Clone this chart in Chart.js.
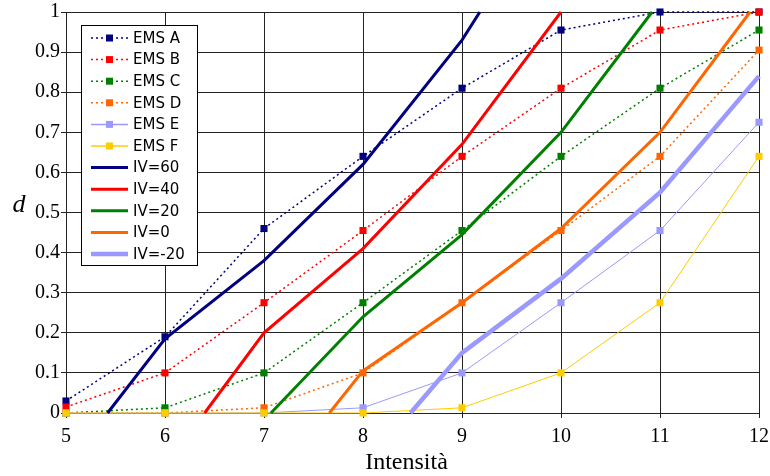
<!DOCTYPE html>
<html>
<head>
<meta charset="utf-8">
<script src="https://cdn.jsdelivr.net/npm/chart.js"></script>
<style>
  html, body { margin: 0; padding: 0; background: #fff; }
  #wrap { width: 770px; height: 476px; }
</style>
</head>
<body>
<div id="wrap"><canvas id="emsChart" width="770" height="476"></canvas></div>
<script>
// 强度等级 (EMS 曲线的横坐标)
const intensity = [5, 6, 7, 8, 9, 10, 11, 12];

// EMS 各类建筑的损伤指数 d
const emsA = [0.03, 0.19, 0.46, 0.64, 0.81, 0.955, 1, 1];
const emsB = [0.015, 0.10, 0.275, 0.455, 0.64, 0.81, 0.955, 1];
const emsC = [0, 0.013, 0.10, 0.275, 0.455, 0.64, 0.81, 0.955];
const emsD = [0, 0, 0.013, 0.10, 0.275, 0.455, 0.64, 0.905];
const emsE = [0, 0, 0, 0.013, 0.10, 0.275, 0.455, 0.725];
const emsF = [0, 0, 0, 0, 0.013, 0.10, 0.275, 0.64];

// IV 曲线 (起点不在整数处)
const iv60X = [5.42, 6, 7, 8, 9, 9.18];
const iv60Y = [0, 0.185, 0.38, 0.62, 0.93, 1];
const iv40X = [6.4, 7, 8, 9, 10];
const iv40Y = [0, 0.2, 0.41, 0.67, 1];
const iv20X = [7.07, 8, 9, 10, 10.92];
const iv20Y = [0, 0.24, 0.445, 0.70, 1];
const iv0X = [7.66, 8, 9, 10, 11, 11.91];
const iv0Y = [0, 0.105, 0.275, 0.46, 0.70, 1];
const ivm20X = [8.48, 9, 10, 11, 12];
const ivm20Y = [0, 0.15, 0.335, 0.55, 0.84];

const xTitle = 'Intensità';
const yTitle = 'd';

function pts(xs, ys) {
    return xs.map((x, i) => ({ x: x, y: ys[i] }));
}

function emsSet(label, ys, color, dotted) {
    return {
        label: label,
        data: pts(intensity, ys),
        borderColor: color,
        backgroundColor: color,
        borderWidth: dotted ? 1.5 : 1,
        borderDash: dotted ? [2, 3] : [],
        pointStyle: 'rect',
        pointRadius: 5,
        pointBorderWidth: 0,
        pointBackgroundColor: color,
        tension: 0
    };
}

function ivSet(label, xs, ys, color, width) {
    return {
        label: label,
        data: pts(xs, ys),
        borderColor: color,
        backgroundColor: color,
        borderWidth: width,
        pointRadius: 0,
        tension: 0
    };
}

const datasets = [
    emsSet('EMS A', emsA, '#000080', true),
    emsSet('EMS B', emsB, '#ff0000', true),
    emsSet('EMS C', emsC, '#008000', true),
    emsSet('EMS D', emsD, '#ff6600', true),
    emsSet('EMS E', emsE, '#9999ff', false),
    emsSet('EMS F', emsF, '#ffcc00', false),
    ivSet('IV=60', iv60X, iv60Y, '#000080', 3),
    ivSet('IV=40', iv40X, iv40Y, '#ff0000', 3),
    ivSet('IV=20', iv20X, iv20Y, '#008000', 3),
    ivSet('IV=0', iv0X, iv0Y, '#ff6600', 3),
    ivSet('IV=-20', ivm20X, ivm20Y, '#9999ff', 4.5)
];
// 后面的系列画在上层
datasets.forEach((d, i) => { d.order = datasets.length - 1 - i; d.clip = false; });

// 图内图例 + 坐标轴标题
const boxLegend = {
    id: 'boxLegend',
    afterDraw(chart) {
        const ctx = chart.ctx;
        const area = chart.chartArea;
        ctx.save();
        ctx.fillStyle = '#fff';
        ctx.fillRect(81, 25, 116, 240);
        ctx.strokeStyle = '#000';
        ctx.lineWidth = 1;
        ctx.strokeRect(81.5, 25.5, 116, 240);
        datasets.forEach((d, i) => {
            const y = 38 + i * 21.6;
            ctx.beginPath();
            ctx.strokeStyle = d.borderColor;
            ctx.lineWidth = d.borderWidth === 1 ? 1.5 : d.borderWidth;
            ctx.setLineDash(d.borderDash || []);
            ctx.moveTo(91, y);
            ctx.lineTo(128, y);
            ctx.stroke();
            ctx.setLineDash([]);
            if (d.pointRadius > 0) {
                ctx.fillStyle = d.borderColor;
                ctx.fillRect(106, y - 3.5, 7, 7);
            }
            ctx.fillStyle = '#000';
            ctx.font = '15px "DejaVu Sans"';
            ctx.textAlign = 'left';
            ctx.textBaseline = 'middle';
            ctx.fillText(d.label, 133, y + 1);
        });
        // 坐标轴标题
        ctx.fillStyle = '#000';
        ctx.textAlign = 'center';
        ctx.textBaseline = 'middle';
        ctx.font = '24px "Liberation Serif"';
        ctx.fillText(xTitle, (area.left + area.right) / 2 - 6, 463);
        ctx.font = 'italic 26px "Liberation Serif"';
        ctx.fillText(yTitle, 19, 205);
        ctx.restore();
    }
};

new Chart(document.getElementById('emsChart'), {
    type: 'line',
    data: { datasets: datasets },
    options: {
        responsive: false,
        animation: false,
        layout: { padding: { top: 12, right: 11, left: 0, bottom: 0 } },
        plugins: {
            legend: { display: false },
            tooltip: { enabled: false }
        },
        scales: {
            x: {
                type: 'linear',
                min: 5,
                max: 12,
                afterFit: function(scale) {
                    scale.height = 63;
                    scale.paddingLeft = 0;
                    scale.paddingRight = 0;
                },
                ticks: {
                    stepSize: 1,
                    color: '#000',
                    padding: 7,
                    maxRotation: 0,
                    font: { family: 'Liberation Serif', size: 20 }
                },
                grid: { color: '#222', lineWidth: 1, tickLength: 5, tickColor: '#222' },
                border: { color: '#222' }
            },
            y: {
                min: 0,
                max: 1,
                afterFit: function(scale) {
                    scale.width = 66;
                    scale.paddingTop = 0;
                    scale.paddingBottom = 0;
                },
                ticks: {
                    stepSize: 0.1,
                    color: '#000',
                    padding: 1,
                    font: { family: 'Liberation Serif', size: 20 },
                    callback: function(v) { return String(parseFloat(v.toFixed(1))); }
                },
                grid: { color: '#222', lineWidth: 1, tickLength: 5, tickColor: '#222' },
                border: { color: '#222' }
            }
        }
    },
    plugins: [boxLegend]
});
</script>
</body>
</html>
